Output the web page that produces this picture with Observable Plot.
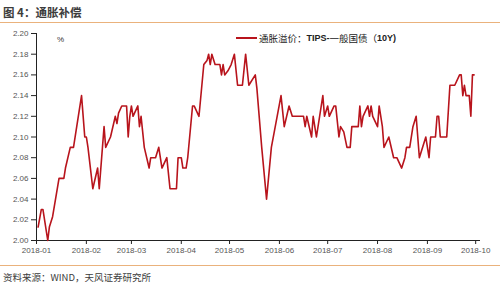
<!DOCTYPE html>
<html>
<head>
<meta charset="utf-8">
<script src="https://cdn.jsdelivr.net/npm/d3@7"></script>
<script src="https://cdn.jsdelivr.net/npm/@observablehq/plot@0.6"></script>
<style>
  body { margin: 0; background: #fff; width: 500px; height: 287px; overflow: hidden; position: relative;
         font-family: "Liberation Sans", "Noto Sans CJK SC", sans-serif; }
  #title { position: absolute; left: 0; top: 0; width: 500px; height: 23px; border-bottom: 1.5px solid #eab27c;
           font-family: "Noto Sans CJK SC", sans-serif; font-weight: bold; font-size: 11.5px; color: #3c3c3c;
           line-height: 25px; padding-left: 3px; box-sizing: border-box; }
  #chart { position: absolute; left: 0; top: 26px; }
  #legend { position: absolute; left: 236px; top: 31px; font-size: 9.5px; color: #222; white-space: nowrap;
            font-family: "Noto Sans CJK SC", sans-serif; display: flex; align-items: center; }
  #legend .sw { display: inline-block; width: 21px; height: 2px; background: #b8141c; margin-right: 2px; }
  #legend b { font-family: "Liberation Sans", sans-serif; font-weight: bold; font-size: 9px; }
  #pct { position: absolute; left: 57px; top: 35px; font-size: 8px; color: #333; }
  #footer { position: absolute; left: 0; top: 265px; width: 500px; border-top: 1.5px solid #eab27c;
            font-family: "Noto Sans CJK SC", sans-serif; font-size: 9.5px; color: #3c3c3c; padding-left: 3px;
            line-height: 22px; box-sizing: border-box; }
</style>
</head>
<body>
<div id="title">图 4：通胀补偿</div>
<div id="chart"></div>
<div id="pct">%</div>
<div id="legend"><span class="sw"></span>通胀溢价：<b>TIPS-</b>一般国债（<b>10Y)</b></div>
<div id="footer">资料来源：WIND，天风证券研究所</div>
<script>
const seriesName = "通胀溢价：TIPS-一般国债（10Y)";
const dates = [
  "2018-01-02","2018-01-04","2018-01-05","2018-01-08","2018-01-09","2018-01-11","2018-01-15","2018-01-18","2018-01-19","2018-01-22",
  "2018-01-24","2018-01-26","2018-01-29","2018-01-31","2018-02-01","2018-02-02","2018-02-05","2018-02-08","2018-02-09","2018-02-12",
  "2018-02-13","2018-02-16","2018-02-19","2018-02-20","2018-02-21","2018-02-23","2018-02-26","2018-02-27","2018-02-28","2018-03-01",
  "2018-03-02","2018-03-05","2018-03-06","2018-03-07","2018-03-08","2018-03-09","2018-03-12","2018-03-13","2018-03-16","2018-03-18",
  "2018-03-20","2018-03-23","2018-03-25","2018-03-29","2018-03-30","2018-04-01","2018-04-02","2018-04-04","2018-04-05","2018-04-08",
  "2018-04-09","2018-04-12","2018-04-15","2018-04-17","2018-04-18","2018-04-19","2018-04-20","2018-04-22","2018-04-25","2018-04-26",
  "2018-04-27","2018-04-28","2018-04-30","2018-05-02","2018-05-04","2018-05-06","2018-05-09","2018-05-11","2018-05-13","2018-05-17",
  "2018-05-18","2018-05-21","2018-05-24","2018-05-27","2018-06-02","2018-06-04","2018-06-07","2018-06-09","2018-06-16","2018-06-17",
  "2018-06-18","2018-06-21","2018-06-22","2018-06-24","2018-06-28","2018-06-29","2018-07-01","2018-07-02","2018-07-05","2018-07-06",
  "2018-07-08","2018-07-09","2018-07-11","2018-07-13","2018-07-15","2018-07-16","2018-07-20","2018-07-21","2018-07-22","2018-07-23",
  "2018-07-26","2018-07-27","2018-07-28","2018-07-29","2018-08-01","2018-08-02","2018-08-04","2018-08-05","2018-08-08","2018-08-11",
  "2018-08-13","2018-08-16","2018-08-18","2018-08-19","2018-08-21","2018-08-23","2018-08-25","2018-08-27","2018-08-31","2018-09-02",
  "2018-09-03","2018-09-06","2018-09-07","2018-09-08","2018-09-09","2018-09-13","2018-09-15","2018-09-18","2018-09-21","2018-09-22",
  "2018-09-23","2018-09-24","2018-09-25","2018-09-27","2018-09-28","2018-09-29","2018-09-30"
];
const values = [
  2.013,2.03,2.03,2.00,2.013,2.023,2.06,2.06,2.07,2.09,
  2.09,2.11,2.14,2.10,2.10,2.09,2.05,2.07,2.05,2.11,
  2.09,2.10,2.12,2.113,2.123,2.13,2.13,2.10,2.12,2.13,
  2.12,2.13,2.11,2.12,2.105,2.09,2.07,2.08,2.08,2.09,
  2.07,2.08,2.05,2.05,2.08,2.08,2.07,2.07,2.08,2.13,
  2.13,2.12,2.17,2.174,2.18,2.17,2.18,2.17,2.17,2.16,
  2.17,2.16,2.164,2.17,2.18,2.15,2.15,2.18,2.15,2.16,
  2.147,2.09,2.04,2.09,2.14,2.11,2.13,2.12,2.12,2.11,
  2.12,2.10,2.12,2.10,2.14,2.12,2.13,2.12,2.13,2.13,
  2.10,2.11,2.105,2.09,2.09,2.11,2.11,2.13,2.11,2.12,
  2.13,2.12,2.13,2.12,2.11,2.13,2.11,2.09,2.10,2.08,
  2.08,2.07,2.08,2.09,2.09,2.11,2.12,2.08,2.10,2.08,
  2.10,2.10,2.12,2.12,2.10,2.10,2.15,2.15,2.16,2.16,
  2.14,2.15,2.14,2.14,2.12,2.16,2.16
];
const xTicks = ["2018-01-01","2018-02-01","2018-03-01","2018-04-01","2018-05-01","2018-06-01","2018-07-01","2018-08-01","2018-09-01","2018-10-01"];
const yTicks = [2.00,2.02,2.04,2.06,2.08,2.10,2.12,2.14,2.16,2.18,2.20];

const parse = d3.utcParse("%Y-%m-%d");
const data = dates.map((d, i) => ({date: parse(d), value: values[i], series: seriesName}));
const xDomain = [parse("2018-01-01"), parse("2018-10-04")];

const chart = Plot.plot({
  width: 500,
  height: 236,
  marginLeft: 36,
  marginRight: 20,
  marginTop: 7,
  marginBottom: 22,
  style: {fontFamily: "Liberation Sans, sans-serif", fontSize: "8px", color: "#555", background: "transparent"},
  x: {type: "utc", domain: xDomain},
  y: {domain: [2.00, 2.20]},
  marks: [
    Plot.axisY({ticks: yTicks, tickFormat: d3.format(".2f"), tickSize: 5, tickPadding: 3, label: null, stroke: "#222", fill: "#555"}),
    Plot.axisX({ticks: xTicks.map(parse), tickFormat: d3.utcFormat("%Y-%m"), tickSize: 4, tickPadding: 3, label: null, stroke: "#222", fill: "#555"}),
    Plot.ruleX([xDomain[0]], {stroke: "#222", strokeWidth: 1}),
    Plot.ruleY([2.00], {stroke: "#222", strokeWidth: 1}),
    Plot.line(data, {x: "date", y: "value", stroke: "#b8141c", strokeWidth: 1.6, curve: "linear"})
  ]
});
document.getElementById("chart").appendChild(chart);
</script>
</body>
</html>
